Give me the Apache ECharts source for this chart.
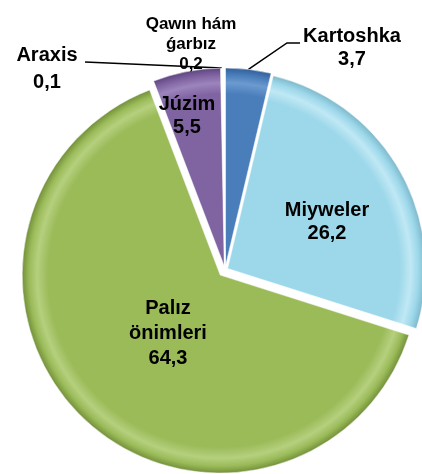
<!DOCTYPE html>
<html>
<head>
<meta charset="utf-8">
<script src="https://cdn.jsdelivr.net/npm/echarts@6/dist/echarts.min.js"></script>
<style>html,body{margin:0;padding:0;background:#fff;}#c{width:422px;height:474px;}</style>
</head>
<body>
<div id="c"></div>
<script>
const categories = ['Kartoshka', 'Miyweler', 'Palız önimleri', 'Júzim', 'Araxis', 'Qawın hám ǵarbız'];
const labelTexts = ['Kartoshka', 'Miyweler', 'Palız\nönimleri', 'Júzim', 'Araxis', 'Qawın hám\nǵarbız'];
const values = [3.7, 26.2, 64.3, 5.5, 0.1, 0.2];
const colors = ['#4A7EBB', '#9DD8EA', '#9BBB59', '#8064A2', '#ffffff', '#ffffff'];
const rimLight = ['#6C9AD0', '#C0E8F4', '#B5D07E', '#9C84BC', '#ffffff', '#ffffff'];
const rimDark = ['#33609A', '#7FB8CC', '#73903A', '#5E4680', '#ffffff', '#ffffff'];
const explode = [4, 3, 7, 4, 4, 4];

const CX = 225, CY = 270, R = 198;

// label placement (layout only)
const labelPos = [
  {x: 352, y: 48},
  {x: 327, y: 222},
  {x: 168, y: 333},
  {x: 187, y: 116},
  {x: 47, y: 69},
  {x: 191, y: 44}
];
const outside = [true, false, false, false, true, true];
const fontSizes = [20, 20, 20, 20, 20, 17];
const lineHeights = [23, 23, 25, 23, 27, 20];

const fmt = v => String(v).replace('.', ',');

// explosion offset of a slice along its bisector
const total = values.reduce((a, b) => a + b, 0);
function sliceOffset(i) {
  const before = values.slice(0, i).reduce((a, b) => a + b, 0);
  const theta = (before + values[i] / 2) / total * 2 * Math.PI;
  return [Math.sin(theta) * explode[i], -Math.cos(theta) * explode[i]];
}

function fill(i, cx, cy) {
  return {
    type: 'radial', x: cx, y: cy, r: R, global: true,
    colorStops: [
      {offset: 0, color: colors[i]},
      {offset: 0.87, color: colors[i]},
      {offset: 0.925, color: rimLight[i]},
      {offset: 0.965, color: colors[i]},
      {offset: 1, color: rimDark[i]}
    ]
  };
}

const hidden = {color: 'rgba(0,0,0,0)', borderWidth: 0};

// each slice drawn by its own pie, shifted along its bisector
const sliceSeries = values.map((v, idx) => {
  const off = sliceOffset(idx);
  const cx = CX + off[0], cy = CY + off[1];
  return {
    type: 'pie',
    center: [cx, cy],
    radius: R,
    startAngle: 90,
    clockwise: true,
    silent: true,
    avoidLabelOverlap: false,
    label: {show: false},
    labelLine: {show: false},
    emphasis: {disabled: true},
    itemStyle: {borderColor: '#ffffff', borderWidth: 0.5},
    data: values.map((vv, i) => ({
      name: categories[i],
      value: vv,
      itemStyle: i === idx ? {color: fill(i, cx, cy)} : hidden
    }))
  };
});

// label-only pie
const labelSeries = {
  type: 'pie',
  center: [CX, CY],
  radius: R,
  startAngle: 90,
  clockwise: true,
  silent: true,
  avoidLabelOverlap: false,
  emphasis: {disabled: true},
  itemStyle: hidden,
  label: {
    show: true,
    color: '#000000',
    fontFamily: '"Liberation Sans", Arial, sans-serif',
    fontWeight: 'bold',
    align: 'center',
    formatter: p => labelTexts[p.dataIndex] + '\n' + fmt(p.value)
  },
  labelLine: {
    show: true,
    lineStyle: {color: '#000000', width: 1.5}
  },
  labelLayout: function (params) {
    const i = params.dataIndex;
    const pos = labelPos[i];
    const res = {x: pos.x, y: pos.y, align: 'center', verticalAlign: 'middle'};
    const pts = params.labelLinePoints;
    if (pts && pts.length) {
      const off = sliceOffset(i);
      const start = [pts[0][0] + off[0], pts[0][1] + off[1]];
      if (i === 0) {
        res.labelLinePoints = [start, [pos.x - 65, pos.y - 5], [pos.x - 52, pos.y - 5]];
      } else if (i === 4) {
        const end = [pos.x + 38, pos.y - 7];
        res.labelLinePoints = [start, [(start[0] + end[0]) / 2, (start[1] + end[1]) / 2], end];
      }
    }
    return res;
  },
  data: values.map((v, i) => ({
    name: categories[i],
    value: v,
    label: {
      position: outside[i] ? 'outside' : 'inside',
      fontSize: fontSizes[i],
      lineHeight: lineHeights[i]
    },
    labelLine: {show: i === 0 || i === 4}
  }))
};

const chart = echarts.init(document.getElementById('c'), null, {renderer: 'canvas'});
chart.setOption({
  animation: false,
  backgroundColor: '#ffffff',
  series: sliceSeries.concat([labelSeries])
});
</script>
</body>
</html>
